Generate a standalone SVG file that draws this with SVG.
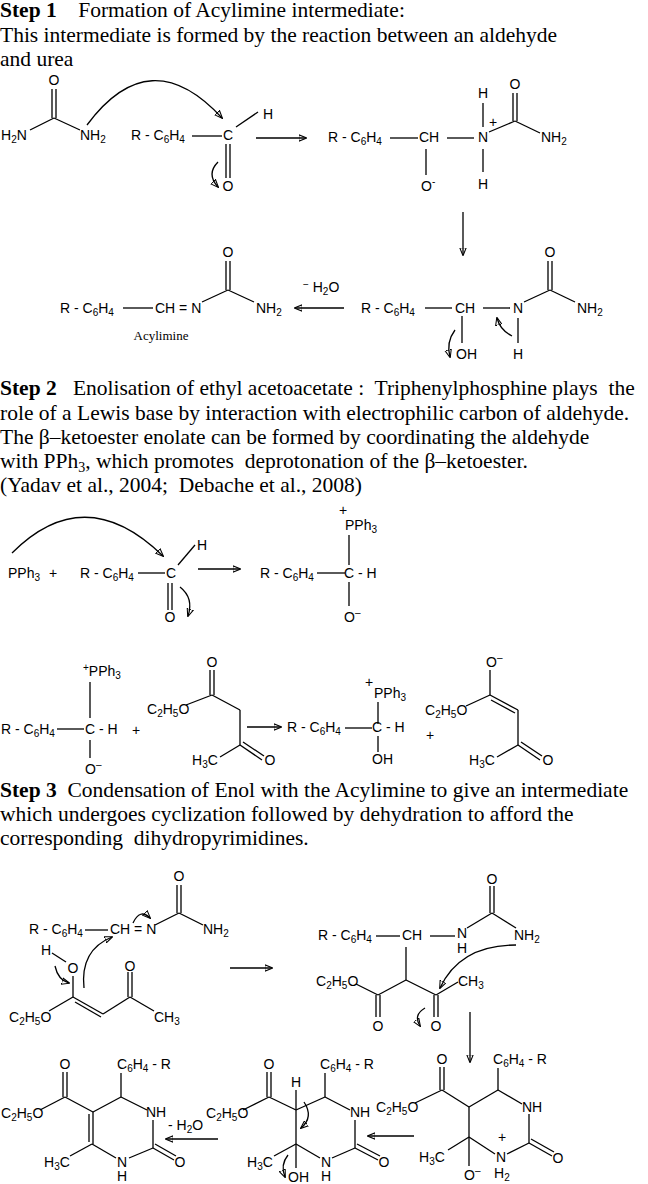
<svg xmlns="http://www.w3.org/2000/svg" width="648" height="1184" viewBox="0 0 648 1184">
<style>
.t{font-family:"Liberation Serif",serif;font-size:21.5px;fill:#000;white-space:pre}
.b{font-weight:bold}
.c{font-family:"Liberation Sans",Arial,sans-serif;font-size:14px;fill:#000}
.m{text-anchor:middle}
.s{font-size:10px}
.p{font-size:10px}
line,path{stroke:#000;stroke-width:1.3;fill:none}
.a{marker-end:url(#ah)}
</style>
<defs>
<marker id="ah" viewBox="0 0 10 10" refX="9" refY="5" markerWidth="8" markerHeight="8" markerUnits="userSpaceOnUse" orient="auto"><path d="M0,1 L10,5 L0,9 Z" fill="#000" stroke="none"/></marker>
</defs>
<rect width="648" height="1184" fill="#fff"/>
<g id="text">
<text class="t" x="0" y="17" xml:space="preserve"><tspan class="b">Step 1</tspan>    Formation of Acylimine intermediate:</text>
<text class="t" x="0" y="42">This intermediate is formed by the reaction between an aldehyde</text>
<text class="t" x="0" y="66">and urea</text>
<text class="t" x="0" y="395" xml:space="preserve"><tspan class="b">Step 2</tspan>   Enolisation of ethyl acetoacetate :  Triphenylphosphine plays  the</text>
<text class="t" x="0" y="420">role of a Lewis base by interaction with electrophilic carbon of aldehyde.</text>
<text class="t" x="0" y="444">The β–ketoester enolate can be formed by coordinating the aldehyde</text>
<text class="t" x="0" y="468" xml:space="preserve">with PPh<tspan font-size="14" dy="4">3</tspan><tspan dy="-4">, which promotes  deprotonation of the β–ketoester.</tspan></text>
<text class="t" x="0" y="492" xml:space="preserve">(Yadav et al., 2004;  Debache et al., 2008)</text>
<text class="t" x="0" y="797" xml:space="preserve"><tspan class="b">Step 3</tspan>  Condensation of Enol with the Acylimine to give an intermediate</text>
<text class="t" x="0" y="821">which undergoes cyclization followed by dehydration to afford the</text>
<text class="t" x="0" y="845" xml:space="preserve">corresponding  dihydropyrimidines.</text>
</g>

<g id="urea">
<text class="c m" x="54" y="85">O</text>
<text class="c" x="1" y="140">H<tspan class="s" dy="3">2</tspan><tspan dy="-3">N</tspan></text>
<text class="c" x="80" y="140">NH<tspan class="s" dy="3">2</tspan></text>
<line x1="52" y1="89" x2="52" y2="118"/><line x1="56" y1="89" x2="56" y2="118"/>
<line x1="54" y1="118" x2="30" y2="130"/><line x1="54" y1="118" x2="80" y2="130"/>
</g>
<g id="aldehyde1">
<text class="c" x="131" y="140">R - C<tspan class="s" dy="3">6</tspan><tspan dy="-3">H</tspan><tspan class="s" dy="3">4</tspan></text>
<line x1="192" y1="136" x2="222" y2="136"/>
<text class="c m" x="228" y="140">C</text>
<text class="c m" x="268" y="119">H</text>
<line x1="236" y1="127" x2="258" y2="112"/>
<line x1="226" y1="144" x2="226" y2="178"/><line x1="230" y1="144" x2="230" y2="178"/>
<text class="c m" x="228" y="191">O</text>
</g>
<g id="inter1">
<text class="c" x="328" y="142">R - C<tspan class="s" dy="3">6</tspan><tspan dy="-3">H</tspan><tspan class="s" dy="3">4</tspan></text>
<line x1="390" y1="138" x2="418" y2="138"/>
<text class="c" x="419" y="142">CH</text>
<line x1="447" y1="138" x2="474" y2="138"/>
<text class="c m" x="483" y="142">N</text>
<text class="c m" x="493" y="127">+</text>
<text class="c m" x="483" y="98">H</text>
<line x1="483" y1="103" x2="483" y2="127"/>
<line x1="483" y1="149" x2="483" y2="172"/>
<text class="c m" x="483" y="189">H</text>
<line x1="426" y1="149" x2="426" y2="175"/>
<text class="c" x="421" y="191">O<tspan class="p" dy="-6">-</tspan></text>
<text class="c m" x="515" y="89">O</text>
<line x1="513" y1="93" x2="513" y2="121"/><line x1="517" y1="93" x2="517" y2="121"/>
<line x1="489" y1="132" x2="515" y2="121"/><line x1="515" y1="121" x2="540" y2="133"/>
<text class="c" x="541" y="142">NH<tspan class="s" dy="3">2</tspan></text>
</g>
<g id="inter2">
<text class="c" x="361" y="313">R - C<tspan class="s" dy="3">6</tspan><tspan dy="-3">H</tspan><tspan class="s" dy="3">4</tspan></text>
<line x1="425" y1="308" x2="452" y2="308"/>
<text class="c" x="455" y="313">CH</text>
<line x1="483" y1="308" x2="510" y2="308"/>
<text class="c m" x="518" y="313">N</text>
<line x1="524" y1="302" x2="550" y2="290"/><line x1="550" y1="290" x2="575" y2="302"/>
<line x1="548" y1="261" x2="548" y2="290"/><line x1="552" y1="261" x2="552" y2="290"/>
<text class="c m" x="550" y="257">O</text>
<text class="c" x="577" y="313">NH<tspan class="s" dy="3">2</tspan></text>
<line x1="462" y1="316" x2="462" y2="343"/>
<text class="c" x="456" y="359">OH</text>
<line x1="518" y1="318" x2="518" y2="343"/>
<text class="c m" x="518" y="359">H</text>
</g>
<g id="acylimine">
<text class="c" x="60" y="313">R - C<tspan class="s" dy="3">6</tspan><tspan dy="-3">H</tspan><tspan class="s" dy="3">4</tspan></text>
<line x1="123" y1="308" x2="153" y2="308"/>
<text class="c" x="155" y="313">CH = N</text>
<line x1="202" y1="302" x2="228" y2="290"/><line x1="228" y1="290" x2="254" y2="302"/>
<line x1="226" y1="261" x2="226" y2="290"/><line x1="230" y1="261" x2="230" y2="290"/>
<text class="c m" x="228" y="257">O</text>
<text class="c" x="256" y="313">NH<tspan class="s" dy="3">2</tspan></text>
<text class="m" x="161" y="340" font-family="Liberation Serif,serif" font-size="13">Acylimine</text>
<text class="c" x="303" y="292" font-size="12"><tspan class="p" dy="-4">−</tspan><tspan dy="4"> H</tspan><tspan class="s" dy="3">2</tspan><tspan dy="-3">O</tspan></text>
</g>

<g id="s2a">
<text class="c" x="8" y="578">PPh<tspan class="s" dy="3">3</tspan></text>
<text class="c m" x="53" y="578">+</text>
<text class="c" x="80" y="578">R - C<tspan class="s" dy="3">6</tspan><tspan dy="-3">H</tspan><tspan class="s" dy="3">4</tspan></text>
<line x1="138" y1="573" x2="165" y2="573"/>
<text class="c m" x="171" y="578">C</text>
<text class="c m" x="202" y="550">H</text>
<line x1="178" y1="565" x2="195" y2="545"/>
<line x1="168" y1="583" x2="168" y2="610"/><line x1="172" y1="583" x2="172" y2="610"/>
<text class="c m" x="170" y="622">O</text>
</g>
<g id="s2b">
<text class="c" x="260" y="578">R - C<tspan class="s" dy="3">6</tspan><tspan dy="-3">H</tspan><tspan class="s" dy="3">4</tspan></text>
<line x1="317" y1="573" x2="345" y2="573"/>
<text class="c" x="344" y="578">C - H</text>
<text class="c m" x="343" y="515">+</text>
<text class="c" x="345" y="530">PPh<tspan class="s" dy="3">3</tspan></text>
<line x1="349" y1="535" x2="349" y2="565"/>
<line x1="349" y1="582" x2="349" y2="606"/>
<text class="c" x="344" y="622">O<tspan class="p" dy="-6">–</tspan></text>
</g>
<g id="s2c">
<text class="c" x="83" y="676"><tspan class="p" dy="-5">+</tspan><tspan dy="5">PPh</tspan><tspan class="s" dy="3">3</tspan></text>
<line x1="90" y1="682" x2="90" y2="718"/>
<text class="c" x="1" y="734">R - C<tspan class="s" dy="3">6</tspan><tspan dy="-3">H</tspan><tspan class="s" dy="3">4</tspan></text>
<line x1="57" y1="729" x2="84" y2="729"/>
<text class="c" x="85" y="734">C - H</text>
<line x1="90" y1="740" x2="90" y2="758"/>
<text class="c" x="85" y="774">O<tspan class="p" dy="-6">–</tspan></text>
<text class="c m" x="136" y="735">+</text>
</g>
<g id="eaa">
<text class="c m" x="212" y="667">O</text>
<line x1="210" y1="670" x2="210" y2="695"/><line x1="214" y1="670" x2="214" y2="695"/>
<text class="c" x="147" y="714">C<tspan class="s" dy="3">2</tspan><tspan dy="-3">H</tspan><tspan class="s" dy="3">5</tspan><tspan dy="-3">O</tspan></text>
<line x1="186" y1="705" x2="212" y2="695"/>
<line x1="212" y1="695" x2="240" y2="710"/>
<line x1="240" y1="710" x2="240" y2="745"/>
<line x1="240" y1="745" x2="220" y2="757"/>
<text class="c" x="192" y="765">H<tspan class="s" dy="3">3</tspan><tspan dy="-3">C</tspan></text>
<line x1="240" y1="745" x2="262" y2="760"/><line x1="243" y1="742" x2="264" y2="756"/>
<text class="c m" x="270" y="765">O</text>
</g>
<g id="s2d">
<text class="c m" x="369" y="687">+</text>
<text class="c" x="374" y="698">PPh<tspan class="s" dy="3">3</tspan></text>
<line x1="378" y1="702" x2="378" y2="724"/>
<text class="c" x="287" y="732">R - C<tspan class="s" dy="3">6</tspan><tspan dy="-3">H</tspan><tspan class="s" dy="3">4</tspan></text>
<line x1="345" y1="728" x2="372" y2="728"/>
<text class="c" x="372" y="732">C - H</text>
<line x1="378" y1="736" x2="378" y2="752"/>
<text class="c" x="372" y="764">OH</text>
<text class="c m" x="430" y="740">+</text>
</g>
<g id="enolate">
<text class="c" x="486" y="667">O<tspan class="p" dy="-6">–</tspan></text>
<line x1="490" y1="670" x2="490" y2="695"/>
<text class="c" x="425" y="715">C<tspan class="s" dy="3">2</tspan><tspan dy="-3">H</tspan><tspan class="s" dy="3">5</tspan><tspan dy="-3">O</tspan></text>
<line x1="466" y1="706" x2="490" y2="695"/>
<line x1="490" y1="695" x2="518" y2="710"/><line x1="491" y1="700" x2="515" y2="713"/>
<line x1="518" y1="710" x2="518" y2="745"/>
<line x1="518" y1="745" x2="497" y2="757"/>
<text class="c" x="469" y="765">H<tspan class="s" dy="3">3</tspan><tspan dy="-3">C</tspan></text>
<line x1="518" y1="745" x2="540" y2="760"/><line x1="521" y1="742" x2="542" y2="756"/>
<text class="c m" x="548" y="765">O</text>
</g>

<g id="s3acyl">
<text class="c" x="29" y="934">R - C<tspan class="s" dy="3">6</tspan><tspan dy="-3">H</tspan><tspan class="s" dy="3">4</tspan></text>
<line x1="85" y1="930" x2="108" y2="930"/>
<text class="c" x="110" y="934">CH = N</text>
<line x1="155" y1="925" x2="179" y2="913"/><line x1="179" y1="913" x2="203" y2="925"/>
<line x1="177" y1="885" x2="177" y2="913"/><line x1="181" y1="885" x2="181" y2="913"/>
<text class="c m" x="179" y="881">O</text>
<text class="c" x="203" y="934">NH<tspan class="s" dy="3">2</tspan></text>
</g>
<g id="s3enol">
<text class="c m" x="46" y="955">H</text>
<line x1="52" y1="953" x2="66" y2="962"/>
<text class="c m" x="73" y="973">O</text>
<line x1="73" y1="976" x2="73" y2="997"/>
<text class="c" x="9" y="1022">C<tspan class="s" dy="3">2</tspan><tspan dy="-3">H</tspan><tspan class="s" dy="3">5</tspan><tspan dy="-3">O</tspan></text>
<line x1="49" y1="1011" x2="73" y2="997"/>
<line x1="73" y1="997" x2="103" y2="1014"/><line x1="75" y1="1002" x2="101" y2="1017"/>
<line x1="103" y1="1014" x2="130" y2="997"/>
<line x1="128" y1="972" x2="128" y2="997"/><line x1="132" y1="972" x2="132" y2="997"/>
<text class="c m" x="130" y="971">O</text>
<line x1="130" y1="997" x2="154" y2="1011"/>
<text class="c" x="154" y="1022">CH<tspan class="s" dy="3">3</tspan></text>
</g>
<g id="s3add">
<text class="c" x="318" y="940">R - C<tspan class="s" dy="3">6</tspan><tspan dy="-3">H</tspan><tspan class="s" dy="3">4</tspan></text>
<line x1="376" y1="936" x2="400" y2="936"/>
<text class="c" x="402" y="940">CH</text>
<line x1="430" y1="936" x2="455" y2="936"/>
<text class="c m" x="462" y="938">N</text>
<text class="c m" x="462" y="953">H</text>
<line x1="467" y1="928" x2="492" y2="913"/><line x1="492" y1="913" x2="516" y2="928"/>
<line x1="490" y1="886" x2="490" y2="913"/><line x1="494" y1="886" x2="494" y2="913"/>
<text class="c m" x="492" y="884">O</text>
<text class="c" x="514" y="940">NH<tspan class="s" dy="3">2</tspan></text>
<line x1="406" y1="947" x2="406" y2="980"/>
<line x1="406" y1="980" x2="378" y2="995"/><line x1="406" y1="980" x2="436" y2="995"/>
<text class="c" x="316" y="986">C<tspan class="s" dy="3">2</tspan><tspan dy="-3">H</tspan><tspan class="s" dy="3">5</tspan><tspan dy="-3">O</tspan></text>
<line x1="356" y1="984" x2="378" y2="995"/>
<line x1="376" y1="995" x2="376" y2="1017"/><line x1="380" y1="995" x2="380" y2="1017"/>
<text class="c m" x="378" y="1031">O</text>
<line x1="436" y1="995" x2="458" y2="982"/>
<text class="c" x="458" y="986">CH<tspan class="s" dy="3">3</tspan></text>
<line x1="434" y1="995" x2="434" y2="1017"/><line x1="438" y1="995" x2="438" y2="1017"/>
<text class="c m" x="436" y="1031">O</text>
</g>
<g id="ringR">
<text class="c m" x="442" y="1064">O</text>
<line x1="440" y1="1067" x2="440" y2="1090"/><line x1="444" y1="1067" x2="444" y2="1090"/>
<line x1="442" y1="1090" x2="469" y2="1107"/>
<text class="c" x="376" y="1112">C<tspan class="s" dy="3">2</tspan><tspan dy="-3">H</tspan><tspan class="s" dy="3">5</tspan><tspan dy="-3">O</tspan></text>
<line x1="415" y1="1103" x2="442" y2="1090"/>
<line x1="469" y1="1107" x2="498" y2="1090"/>
<line x1="498" y1="1090" x2="498" y2="1068"/>
<text class="c" x="493" y="1064">C<tspan class="s" dy="3">6</tspan><tspan dy="-3">H</tspan><tspan class="s" dy="3">4</tspan><tspan dy="-3"> - R</tspan></text>
<line x1="498" y1="1090" x2="522" y2="1104"/>
<text class="c" x="522" y="1112">NH</text>
<line x1="529" y1="1114" x2="529" y2="1143"/>
<line x1="529" y1="1143" x2="552" y2="1156"/><line x1="531" y1="1139" x2="554" y2="1152"/>
<text class="c m" x="558" y="1163">O</text>
<line x1="529" y1="1143" x2="507" y2="1154"/>
<text class="c m" x="502" y="1142">+</text>
<text class="c m" x="501" y="1162">N</text>
<text class="c" x="494" y="1178">H<tspan class="s" dy="3">2</tspan></text>
<line x1="495" y1="1154" x2="469" y2="1137"/>
<line x1="469" y1="1137" x2="469" y2="1107"/>
<line x1="469" y1="1137" x2="448" y2="1150"/>
<text class="c" x="419" y="1162">H<tspan class="s" dy="3">3</tspan><tspan dy="-3">C</tspan></text>
<line x1="469" y1="1137" x2="469" y2="1166"/>
<text class="c" x="464" y="1180">O<tspan class="p" dy="-6">–</tspan></text>
</g>
<g id="ringM">
<text class="c m" x="269" y="1069">O</text>
<line x1="267" y1="1072" x2="267" y2="1097"/><line x1="271" y1="1072" x2="271" y2="1097"/>
<line x1="269" y1="1097" x2="296" y2="1110"/>
<text class="c" x="206" y="1118">C<tspan class="s" dy="3">2</tspan><tspan dy="-3">H</tspan><tspan class="s" dy="3">5</tspan><tspan dy="-3">O</tspan></text>
<line x1="243" y1="1110" x2="269" y2="1097"/>
<text class="c m" x="296" y="1087">H</text>
<line x1="296" y1="1090" x2="296" y2="1110"/>
<line x1="296" y1="1110" x2="325" y2="1097"/>
<line x1="325" y1="1097" x2="325" y2="1073"/>
<text class="c" x="320" y="1069">C<tspan class="s" dy="3">6</tspan><tspan dy="-3">H</tspan><tspan class="s" dy="3">4</tspan><tspan dy="-3"> - R</tspan></text>
<line x1="325" y1="1097" x2="350" y2="1110"/>
<text class="c" x="350" y="1117">NH</text>
<line x1="355" y1="1120" x2="355" y2="1148"/>
<line x1="355" y1="1148" x2="378" y2="1160"/><line x1="357" y1="1144" x2="380" y2="1156"/>
<text class="c m" x="384" y="1167">O</text>
<line x1="355" y1="1148" x2="332" y2="1158"/>
<text class="c m" x="326" y="1167">N</text>
<text class="c m" x="326" y="1181">H</text>
<line x1="320" y1="1158" x2="296" y2="1144"/>
<line x1="296" y1="1144" x2="296" y2="1110"/>
<line x1="296" y1="1144" x2="274" y2="1156"/>
<text class="c" x="247" y="1167">H<tspan class="s" dy="3">3</tspan><tspan dy="-3">C</tspan></text>
<line x1="296" y1="1144" x2="296" y2="1168"/>
<text class="c" x="288" y="1182">OH</text>
</g>
<g id="ringL">
<text class="c m" x="65" y="1069">O</text>
<line x1="63" y1="1072" x2="63" y2="1097"/><line x1="67" y1="1072" x2="67" y2="1097"/>
<line x1="65" y1="1097" x2="93" y2="1112"/>
<text class="c" x="1" y="1118">C<tspan class="s" dy="3">2</tspan><tspan dy="-3">H</tspan><tspan class="s" dy="3">5</tspan><tspan dy="-3">O</tspan></text>
<line x1="40" y1="1110" x2="65" y2="1097"/>
<line x1="93" y1="1112" x2="121" y2="1097"/>
<line x1="121" y1="1097" x2="121" y2="1073"/>
<text class="c" x="117" y="1069">C<tspan class="s" dy="3">6</tspan><tspan dy="-3">H</tspan><tspan class="s" dy="3">4</tspan><tspan dy="-3"> - R</tspan></text>
<line x1="121" y1="1097" x2="147" y2="1110"/>
<text class="c" x="146" y="1117">NH</text>
<line x1="153" y1="1120" x2="153" y2="1148"/>
<line x1="153" y1="1148" x2="174" y2="1160"/><line x1="155" y1="1144" x2="176" y2="1156"/>
<text class="c m" x="180" y="1167">O</text>
<line x1="153" y1="1148" x2="129" y2="1158"/>
<text class="c m" x="122" y="1167">N</text>
<text class="c m" x="122" y="1181">H</text>
<line x1="116" y1="1158" x2="92" y2="1144"/>
<line x1="93" y1="1112" x2="93" y2="1144"/><line x1="89" y1="1114" x2="89" y2="1142"/>
<line x1="92" y1="1144" x2="70" y2="1156"/>
<text class="c" x="44" y="1167">H<tspan class="s" dy="3">3</tspan><tspan dy="-3">C</tspan></text>
<text class="c" x="168" y="1130" font-size="10">- H<tspan class="s" dy="3" font-size="8">2</tspan><tspan dy="-3">O</tspan></text>
</g>

<g id="connectors">
<path class="a" d="M87,125 Q150,40 222,118"/>
<path class="a" d="M218,162 Q206,174 218,187"/>
<line class="a" x1="256" y1="138" x2="306" y2="138"/>
<line class="a" x1="463" y1="212" x2="463" y2="255"/>
<path class="a" d="M512,336 Q500,330 497,318"/>
<path class="a" d="M455,330 Q446,342 450,357"/>
<line class="a" x1="344" y1="308" x2="295" y2="308"/>
<path class="a" d="M12,553 Q85,480 163,556"/>
<path class="a" d="M180,587 Q194,598 188,616"/>
<line class="a" x1="198" y1="569" x2="240" y2="569"/>
<line class="a" x1="247" y1="727" x2="281" y2="727"/>
<path class="a" d="M133,923 Q140,908 150,918"/>
<path class="a" d="M84,988 Q80,950 112,937"/>
<path class="a" d="M55,966 Q58,980 69,983"/>
<line class="a" x1="230" y1="968" x2="272" y2="968"/>
<path class="a" d="M516,945 Q460,945 440,988"/>
<path class="a" d="M425,1008 Q413,1015 420,1026"/>
<line class="a" x1="470" y1="1012" x2="470" y2="1062"/>
<line class="a" x1="414" y1="1136" x2="368" y2="1136"/>
<path class="a" d="M304,1102 Q314,1117 301,1128"/>
<path class="a" d="M288,1155 Q280,1165 285,1177"/>
<line class="a" x1="218" y1="1139" x2="166" y2="1139"/>
</g>
</svg>
